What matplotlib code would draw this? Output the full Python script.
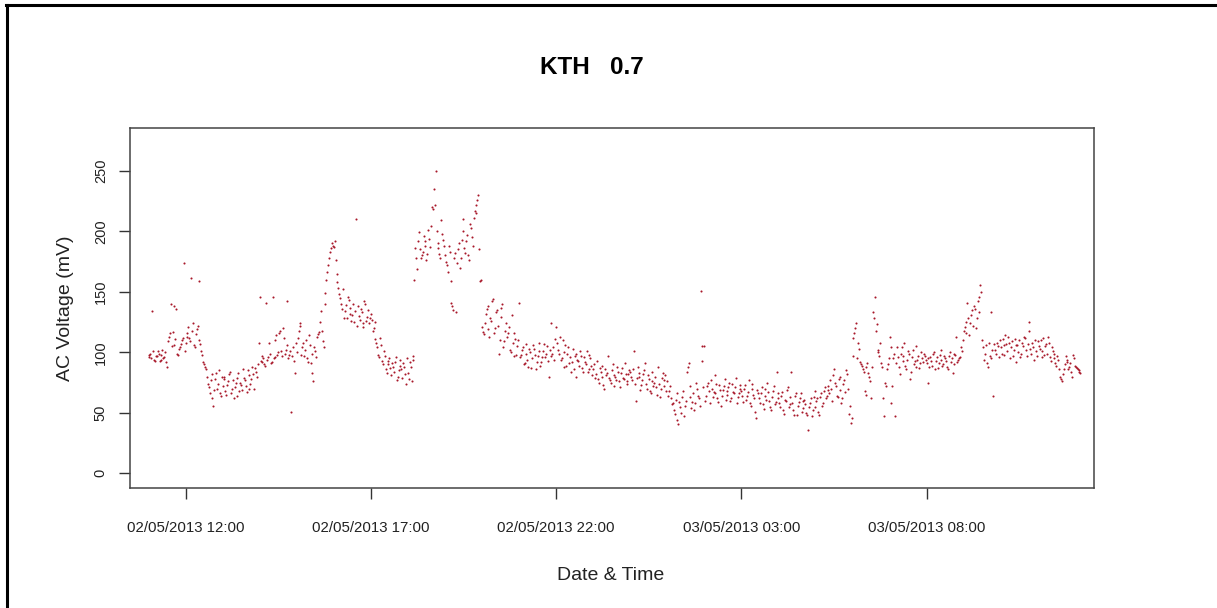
import datetime as dt
import matplotlib
matplotlib.use("Agg")
import matplotlib.pyplot as plt
from matplotlib.lines import Line2D

plt.rcParams['font.family'] = ['Liberation Sans', 'DejaVu Sans']

# AC voltage readings (mV), one list per hour, readings every 3 minutes (on the minute)
day1_11 = [96, 99, 134, 94, 97, 101, 93, 98, 95, 100, 88, 113, 140, 117, 106, 136, 98, 104, 110, 174]
day1_12 = [108, 116, 112, 161, 124, 104, 119, 159, 107, 98, 90, 86, 74, 66, 82, 56, 78, 70, 85, 64]
day1_13 = [72, 80, 65, 76, 84, 70, 62, 75, 79, 68, 73, 86, 77, 67, 81, 74, 88, 70, 84, 90]
day1_14 = [146, 92, 95, 89, 94, 108, 91, 146, 96, 114, 100, 118, 97, 112, 102, 142, 98, 51, 104, 83]
day1_15 = [100, 118, 122, 104, 97, 110, 92, 106, 83, 76, 101, 113, 117, 134, 109, 149, 160, 172, 183, 190]
day1_16 = [187, 176, 158, 148, 140, 152, 134, 128, 143, 137, 131, 125, 210, 138, 127, 133, 121, 140, 129, 124]
day1_17 = [132, 118, 125, 108, 98, 112, 93, 101, 86, 90, 95, 81, 88, 92, 77, 85, 94, 79, 88, 74]
day1_18 = [83, 92, 76, 97, 186, 169, 199, 178, 183, 192, 176, 201, 187, 220, 235, 250, 190, 181, 209, 193]
day1_19 = [180, 172, 188, 159, 138, 178, 133, 185, 170, 193, 210, 182, 197, 176, 203, 188, 217, 222, 230, 159]
day1_20 = [121, 115, 132, 138, 113, 126, 144, 120, 135, 99, 129, 140, 109, 124, 116, 102, 131, 97, 111, 105]
day1_21 = [141, 98, 104, 91, 107, 88, 100, 95, 103, 86, 97, 108, 92, 101, 96, 105, 80, 124, 99, 94]
day1_22 = [121, 102, 113, 95, 88, 106, 99, 91, 84, 103, 97, 80, 93, 101, 87, 96, 90, 84, 98, 89]
day1_23 = [86, 79, 93, 75, 84, 89, 70, 81, 97, 77, 85, 72, 80, 88, 76, 83, 79, 91, 74, 82]
day2_00 = [84, 77, 101, 60, 88, 80, 73, 82, 91, 70, 78, 66, 84, 75, 71, 88, 63, 79, 72, 81]
day2_01 = [76, 68, 62, 58, 49, 66, 41, 55, 63, 47, 60, 88, 72, 54, 66, 58, 70, 62, 151, 93]
day2_02 = [105, 64, 75, 58, 70, 67, 81, 62, 73, 56, 69, 78, 65, 71, 60, 74, 66, 79, 63, 70]
day2_03 = [68, 59, 73, 64, 77, 56, 70, 62, 46, 66, 58, 71, 53, 64, 75, 60, 52, 68, 57, 84]
day2_04 = [62, 55, 67, 49, 60, 71, 57, 84, 52, 64, 48, 59, 66, 54, 61, 50, 36, 58, 47, 63]
day2_05 = [55, 62, 48, 66, 58, 71, 64, 69, 77, 60, 86, 72, 63, 80, 58, 74, 67, 82, 49, 42]
day2_06 = [97, 116, 124, 108, 92, 89, 84, 65, 91, 80, 62, 133, 146, 123, 102, 108, 88, 47, 72, 90]
day2_07 = [113, 58, 95, 47, 104, 88, 99, 93, 108, 86, 101, 78, 96, 90, 105, 94, 87, 100, 92, 97]
day2_08 = [91, 75, 96, 89, 100, 93, 87, 98, 102, 90, 95, 88, 97, 92, 83, 99, 113, 94, 96, 101]
day2_09 = [118, 125, 141, 114, 131, 122, 136, 128, 146, 156, 110, 94, 106, 88, 97, 133, 64, 102, 108, 96]
day2_10 = [104, 111, 98, 107, 113, 95, 109, 102, 92, 106, 110, 99, 105, 112, 97, 125, 103, 108, 94, 101]
day2_11 = [109, 103, 96, 112, 105, 99, 108, 93, 101, 95, 89, 94, 80, 76, 86, 97, 92, 88, 84, 98]
day2_12 = [89, 87, 85, 83]

# in-between readings (1.5 minutes after each of the above)
day1_11b = [98, 95, 101, 93, 97, 99, 94, 102, 96, 92, 109, 116, 105, 138, 111, 99, 103, 107, 112, 101]
day1_12b = [113, 121, 109, 118, 106, 115, 122, 110, 101, 92, 88, 80, 71, 77, 62, 69, 83, 74, 66, 80]
day1_13b = [78, 68, 73, 82, 66, 77, 71, 64, 83, 75, 69, 79, 72, 85, 70, 78, 82, 87, 80, 108]
day1_14b = [93, 97, 90, 141, 96, 99, 92, 95, 110, 98, 116, 101, 120, 99, 106, 95, 101, 97, 93, 108]
day1_15b = [112, 124, 98, 108, 102, 95, 114, 91, 99, 104, 96, 115, 125, 118, 104, 140, 166, 178, 186, 188]
day1_16b = [192, 165, 153, 145, 136, 128, 139, 146, 132, 126, 140, 134, 122, 130, 136, 124, 142, 126, 135, 128]
day1_17b = [127, 120, 111, 104, 96, 106, 90, 97, 83, 93, 87, 91, 84, 96, 80, 89, 86, 91, 82, 95]
day1_18b = [78, 88, 94, 160, 178, 192, 185, 180, 196, 188, 181, 194, 204, 218, 222, 200, 186, 178, 198, 188]
day1_19b = [175, 166, 183, 141, 135, 182, 174, 190, 178, 200, 186, 192, 180, 206, 195, 211, 215, 226, 185, 160]
day1_20b = [117, 124, 136, 119, 128, 142, 116, 133, 122, 110, 137, 104, 118, 113, 121, 100, 108, 116, 98, 110]
day1_21b = [96, 102, 90, 99, 94, 103, 87, 106, 98, 92, 101, 89, 96, 107, 99, 93, 102, 97, 104, 111]
day1_22b = [108, 99, 94, 110, 100, 89, 104, 96, 92, 86, 99, 94, 89, 97, 84, 92, 101, 86, 95, 81]
day1_23b = [90, 82, 78, 87, 80, 73, 86, 83, 79, 75, 90, 81, 77, 84, 71, 87, 78, 82, 76, 85]
day2_00b = [80, 86, 74, 79, 83, 69, 77, 85, 74, 81, 68, 76, 72, 80, 65, 74, 70, 83, 77, 68]
day2_01b = [64, 72, 57, 52, 61, 44, 59, 50, 68, 56, 84, 91, 63, 59, 52, 75, 64, 56, 105, 71]
day2_02b = [60, 72, 68, 77, 63, 66, 74, 59, 69, 64, 72, 61, 68, 75, 62, 67, 71, 58, 66, 73]
day2_03b = [64, 70, 61, 67, 58, 74, 65, 51, 69, 62, 66, 57, 70, 61, 67, 55, 63, 72, 59, 66]
day2_04b = [58, 64, 52, 61, 69, 55, 63, 58, 48, 66, 56, 62, 51, 60, 57, 48, 55, 62, 52, 68]
day2_05b = [60, 51, 63, 56, 68, 62, 72, 66, 70, 81, 75, 64, 78, 69, 62, 77, 85, 70, 56, 46]
day2_06b = [112, 120, 95, 103, 90, 86, 68, 88, 83, 76, 88, 128, 118, 100, 97, 91, 62, 75, 86, 95]
day2_07b = [104, 72, 99, 91, 96, 82, 104, 97, 89, 94, 99, 84, 102, 93, 88, 97, 91, 95, 99, 94]
day2_08b = [95, 88, 93, 99, 86, 96, 91, 94, 89, 97, 93, 86, 100, 95, 90, 98, 92, 95, 104, 110]
day2_09b = [121, 116, 128, 124, 135, 138, 120, 142, 133, 150, 104, 99, 91, 108, 95, 102, 107, 99, 105, 110]
day2_10b = [99, 106, 114, 101, 108, 104, 97, 111, 106, 100, 96, 108, 113, 102, 107, 118, 99, 104, 110, 97]
day2_11b = [105, 110, 101, 98, 107, 113, 96, 104, 99, 91, 97, 86, 78, 82, 90, 94, 86, 91, 80, 95]
day2_12b = [88, 86, 84]

hourly = [day1_11, day1_12, day1_13, day1_14, day1_15, day1_16, day1_17, day1_18,
          day1_19, day1_20, day1_21, day1_22, day1_23, day2_00, day2_01, day2_02,
          day2_03, day2_04, day2_05, day2_06, day2_07, day2_08, day2_09, day2_10,
          day2_11, day2_12]
hourly_b = [day1_11b, day1_12b, day1_13b, day1_14b, day1_15b, day1_16b, day1_17b, day1_18b,
            day1_19b, day1_20b, day1_21b, day1_22b, day1_23b, day2_00b, day2_01b, day2_02b,
            day2_03b, day2_04b, day2_05b, day2_06b, day2_07b, day2_08b, day2_09b, day2_10b,
            day2_11b, day2_12b]

tick_times = ["2013-05-02 12:00", "2013-05-02 17:00", "2013-05-02 22:00",
              "2013-05-03 03:00", "2013-05-03 08:00"]

start = dt.datetime(2013, 5, 2, 11, 0)
times, volts = [], []
for offset, lists in ((0.0, hourly), (1.5, hourly_b)):
    for h, vals in enumerate(lists):
        for i, v in enumerate(vals):
            times.append(start + dt.timedelta(hours=h, minutes=3 * i + offset))
            volts.append(v)

W, H = 1217, 608
fig = plt.figure(figsize=(W / 100, H / 100), dpi=100)
ax = fig.add_axes([130 / W, 1 - 488 / H, (1094 - 130) / W, (488 - 128) / H])

ax.plot(times, volts, linestyle='none', marker='o', markersize=1.5,
        markeredgewidth=0, color='#A8182A')

ax.set_xlim(dt.datetime(2013, 5, 2, 10, 30), dt.datetime(2013, 5, 3, 12, 31))
ax.set_ylim(-12.1, 285.3)

ticks = [dt.datetime.strptime(t, "%Y-%m-%d %H:%M") for t in tick_times]
ax.set_xticks(ticks)
ax.set_xticklabels([t.strftime("%d/%m/%Y %H:%M") for t in ticks], fontsize=10.8, color='#222222')
ax.set_yticks([0, 50, 100, 150, 200, 250])
ax.set_yticklabels(['0', '50', '100', '150', '200', '250'], rotation=90, va='center',
                   fontsize=10.5, color='#222222')
ax.tick_params(axis='x', length=8, width=1, color='#333333', pad=16)
ax.tick_params(axis='y', length=8, width=1, color='#333333', pad=8)

for s in ax.spines.values():
    s.set_color('#444444')
    s.set_linewidth(1.1)

ax.set_ylabel('AC Voltage (mV)', fontsize=14, color='#222222', labelpad=14)
fig.text(611 / W, 1 - 575 / H, 'Date & Time', fontsize=14, color='#222222',
         ha='center', va='center')
fig.text(592 / W, 1 - 68 / H, 'KTH   0.7', fontsize=17.5, fontweight='bold',
         ha='center', va='center')

# outer frame (top and left edges visible)
fig.add_artist(Line2D([6 / W, 1.0], [1 - 5 / H, 1 - 5 / H], color='black', linewidth=2.2,
                      transform=fig.transFigure))
fig.add_artist(Line2D([7 / W, 7 / W], [0.0, 1 - 5 / H], color='black', linewidth=2.2,
                      transform=fig.transFigure))

fig.savefig('out.png', dpi=100)
